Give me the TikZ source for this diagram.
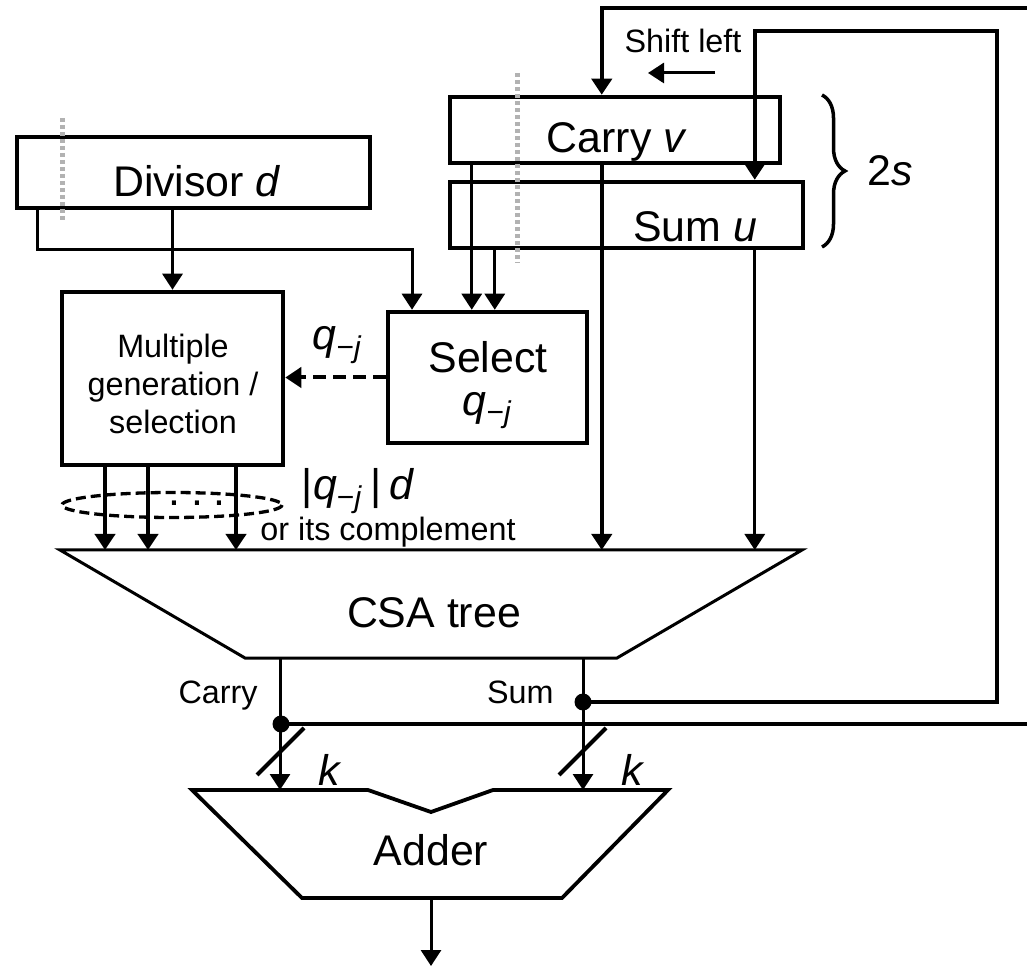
\documentclass[tikz,border=0pt]{standalone}
\usepackage{fontspec}
\setmainfont{Liberation Sans}
\usetikzlibrary{arrows.meta, calc, decorations.pathreplacing}

\tikzset{
  regbox/.style={draw, line width=0.45mm, inner sep=0pt},
  wire/.style={line width=0.3mm},
  arr/.style={wire, -{Triangle[width=2mm,length=1.6mm]}},
  fatarr/.style={arr, line width=0.4mm},
  feedback/.style={line width=0.35mm},
  bigtxt/.style={font=\fontsize{12.2}{12.2}\selectfont},
  smalltxt/.style={font=\fontsize{9.2}{10.8}\selectfont},
  cutline/.style={gray!60, line width=0.5mm, dash pattern=on 0.45mm off 0.25mm},
  junction/.style={circle, fill, inner sep=0pt, minimum size=1.7mm}
}
\newcommand\qj{\textit{q}\textsubscript{−\textit{j}}}

\begin{document}
\begin{tikzpicture}[x=0.1mm, y=-0.1mm]
\useasboundingbox (0,0) rectangle (1027,967);

% registers
\node[regbox, minimum width=35.3mm, minimum height=7.1mm] (divisor) at (193.5,172.5) {};
\node[bigtxt, anchor=base] (divtxt) at (197,197) {Divisor \textit{d}};
\node[regbox, minimum width=33mm, minimum height=6.6mm] (carry) at (615,130) {};
\node[bigtxt, anchor=base] (carrytxt) at (617,153) {Carry \textit{v}};
\node[regbox, minimum width=35.3mm, minimum height=6.6mm] (sum) at (626.5,215) {};
\node[bigtxt, anchor=base] (sumtxt) at (695,242) {Sum \textit{u}};

% partition marks
\draw[cutline] (62,118) -- (62,220);
\draw[cutline] (517,73) -- (517,263);

% brace over the two registers
\draw[line width=0.35mm, decorate, decoration={brace, amplitude=2.3mm}]
  (822,95) -- (822,247) node[midway, right=3.2mm, bigtxt] (twos) {2\textit{s}};

% logic blocks
\node[regbox, minimum width=22.1mm, minimum height=17.3mm] (mult) at (172.5,378.5) {};
\node[smalltxt, align=center] (multtxt) at (173,384) {Multiple\\generation /\\selection};
\node[regbox, minimum width=19.9mm, minimum height=13.1mm] (select) at (487.5,377.5) {};
\node[bigtxt, align=center] (seltxt) at (488,385) {Select\\\qj};

% CSA tree
\draw[wire] (60,550) coordinate (csatl) -- (802,550) -- (617,658) coordinate (csabr)
  -- (245,658) -- cycle;
\node[bigtxt, anchor=base] (csatxt) at (434,627) {CSA tree};

% adder
\draw[line width=0.38mm] (192,790) coordinate (addtl) -- (368,790) -- (431,812) -- (493,790)
  -- (668,790) -- (562,898) -- (302,898) -- cycle;
\node[bigtxt, anchor=base] (addtxt) at (431,865) {Adder};
\coordinate (addout) at (431,898);
\coordinate (result) at (431,966);

% divisor paths
\draw[arr] ($(divisor.south west)+(23,0)$) -- ++(0,39) -| ($(select.north)+(-75.5,0)$);
\draw[arr] (divisor.south -| mult.north) -- (mult.north);

% quotient digit
\draw[fatarr, dash pattern=on 1.3mm off 0.7mm] (select.west) -- (select.west -| mult.east);
\node[bigtxt] (qlabel) at (338,345) {\qj};

% residual bits to select
\draw[arr] ($(carry.south west)+(24,0)$) coordinate (cv1) -- (cv1 |- select.north);
\draw[arr] ($(sum.south west)+(47,0)$) coordinate (su1) -- (su1 |- select.north);

% residual to CSA tree
\draw[fatarr] ($(carry.south west)+(154,0)$) coordinate (cv2) -- (cv2 |- csatl);
\draw[arr] ($(sum.south west)+(307,0)$) coordinate (su2) -- (su2 |- csatl);

% multiples to CSA tree
\foreach \xm in {105,148,236}
  \draw[fatarr] (\xm,0 |- mult.south) -- (\xm,0 |- csatl);
\draw[dash pattern=on 1mm off 0.5mm, line width=0.33mm] (172,505) ellipse (110 and 12.5);
\node[bigtxt] (dots) at (197,503) {.\kern1.1mm.\kern1.1mm.};
\node[bigtxt, anchor=base] (mlabel) at (358,500) {|\qj\,|\,\textit{d}};
\node[smalltxt, anchor=base west] (mlabel2) at (248,540) {or its complement};

% CSA outputs
\coordinate (cout) at (280,658);
\coordinate (sout) at (583,658);
\node[smalltxt, anchor=base east] (coutlbl) at (270,703) {Carry};
\node[smalltxt, anchor=base east] (soutlbl) at (566,703) {Sum};
\node[junction] (cdot) at (281,724) {};
\node[junction] (sdot) at (583,702) {};
\draw[arr] (cout) -- (cout |- addtl);
\draw[arr] (sout) -- (sout |- addtl);

% bus widths
\draw[line width=0.4mm] (257,775) -- (304,728);
\draw[line width=0.4mm] (559,775) -- (606,728);
\node[bigtxt, anchor=base west] (kc) at (306,785) {\textit{k}};
\node[bigtxt, anchor=base west] (ks) at (609,785) {\textit{k}};

% feedback loops
\draw[arr, line width=0.42mm] (cdot.center) -- (1045,724) -- (1045,8) -| (cv2 |- carry.north);
\draw[arr, feedback] (sdot.center) -- (997,702) -- (997,31) -| (su2 |- sum.north);
\node[smalltxt, anchor=base] (shift) at (683,53) {Shift left};
\draw[arr] (715,73) -- (648,73);

% result
\draw[arr] (addout) -- (result);

\end{tikzpicture}
\end{document}
